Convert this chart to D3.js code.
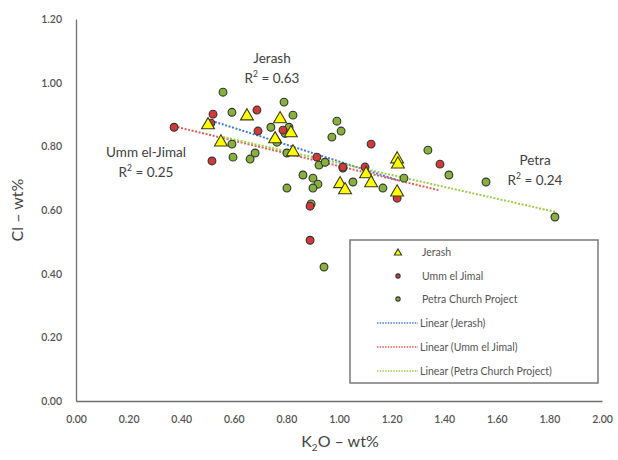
<!DOCTYPE html>
<html>
<head>
<meta charset="utf-8">
<script src="https://cdn.jsdelivr.net/npm/d3@7"></script>
<style>
  html, body { margin: 0; padding: 0; background: #fff; }
  svg { display: block; font-family: Lato, "Open Sans", sans-serif; }
</style>
</head>
<body>
<svg id="chart" width="618" height="460"></svg>
<script>
// K2O (x) and Cl (y) in wt% for each site
const jerashK2O = [0.502, 0.551, 0.650, 0.776, 0.817, 0.757, 0.825, 1.004, 1.023, 1.103, 1.122, 1.221, 1.224, 1.221];
const jerashCl  = [0.870, 0.816, 0.898, 0.889, 0.845, 0.826, 0.785, 0.685, 0.666, 0.716, 0.688, 0.763, 0.747, 0.659];

const ummK2O = [0.373, 0.521, 0.513, 0.688, 0.692, 0.517, 0.787, 0.916, 1.015, 1.099, 1.122, 1.384, 1.221, 0.890, 0.890];
const ummCl  = [0.860, 0.901, 0.873, 0.914, 0.848, 0.754, 0.851, 0.766, 0.735, 0.735, 0.807, 0.744, 0.637, 0.612, 0.505];

const petraK2O = [0.559, 0.593, 0.593, 0.597, 0.662, 0.681, 0.741, 0.791, 0.825, 0.810, 0.795, 0.764, 0.802,
                  0.992, 1.008, 0.973, 0.924, 0.947, 1.015, 0.863, 0.901, 0.920, 0.901, 0.802, 1.053, 1.167,
                  1.247, 1.338, 1.418, 1.559, 1.821, 0.894, 0.943];
const petraCl  = [0.970, 0.907, 0.807, 0.766, 0.760, 0.779, 0.860, 0.939, 0.898, 0.860, 0.841, 0.813, 0.779,
                  0.879, 0.848, 0.829, 0.741, 0.750, 0.732, 0.710, 0.700, 0.681, 0.669, 0.669, 0.688, 0.669,
                  0.700, 0.788, 0.710, 0.688, 0.578, 0.619, 0.421];

const xTicks = [0, 0.2, 0.4, 0.6, 0.8, 1.0, 1.2, 1.4, 1.6, 1.8, 2.0];
const yTicks = [0, 0.2, 0.4, 0.6, 0.8, 1.0, 1.2];

const seriesNames = ["Jerash", "Umm el Jimal", "Petra Church Project"];
const trendNames = ["Linear (Jerash)", "Linear (Umm el Jimal)", "Linear (Petra Church Project)"];
const fitLabels = [
  { name: "Jerash", r2: "0.63" },
  { name: "Umm el-Jimal", r2: "0.25" },
  { name: "Petra", r2: "0.24" }
];

const svg = d3.select("#chart");
const plotLeft = 76, plotRight = 602, plotTop = 19, plotBottom = 401;

const x = d3.scaleLinear().domain([0, 2]).range([plotLeft, plotRight]);
const y = d3.scaleLinear().domain([0, 1.2]).range([plotBottom, plotTop]);

const zip = (xs, ys) => xs.map((v, i) => [v, ys[i]]);
const series = [
  { pts: zip(jerashK2O, jerashCl), shape: "tri", fill: "#ffff00", line: "#4a7bd0" },
  { pts: zip(ummK2O, ummCl), shape: "circ", fill: "#d23a3a", line: "#e0605a" },
  { pts: zip(petraK2O, petraCl), shape: "circ", fill: "#86b23c", line: "#9ccc4a" }
];

// least-squares line over the x-range of each series
function fit(pts) {
  const mx = d3.mean(pts, d => d[0]), my = d3.mean(pts, d => d[1]);
  const sxy = d3.sum(pts, d => (d[0] - mx) * (d[1] - my));
  const sxx = d3.sum(pts, d => (d[0] - mx) ** 2);
  const b = sxy / sxx, a = my - b * mx;
  const [x0, x1] = d3.extent(pts, d => d[0]);
  return [[x0, a + b * x0], [x1, a + b * x1]];
}

// axes (lines and labels only)
const axisColor = "#6e6e6e";
const xAxis = svg.append("g").attr("transform", `translate(0,${plotBottom})`)
  .call(d3.axisBottom(x).tickValues(xTicks).tickSize(0).tickPadding(15).tickFormat(d3.format(".2f")));
const yAxis = svg.append("g").attr("transform", `translate(${plotLeft},0)`)
  .call(d3.axisLeft(y).tickValues(yTicks).tickSize(0).tickPadding(14).tickFormat(d3.format(".2f")));
[xAxis, yAxis].forEach(g => {
  g.select(".domain").attr("stroke", axisColor).attr("stroke-width", 1.3);
  g.selectAll("text").attr("fill", "#555").attr("font-size", 10.5).attr("font-weight", 600)
    .attr("font-family", "Lato, sans-serif");
});

// axis titles
const xt = svg.append("text").attr("x", 340).attr("y", 447).attr("text-anchor", "middle")
  .attr("font-size", 16).attr("fill", "#444");
xt.append("tspan").text("K");
xt.append("tspan").text("2").attr("font-size", 10).attr("dy", 4);
xt.append("tspan").text("O – wt%").attr("dy", -4);

svg.append("text").attr("transform", "translate(23,210) rotate(-90)").attr("text-anchor", "middle")
  .attr("font-size", 16).attr("fill", "#444").text("Cl – wt%");

// trend lines
const lineGen = d3.line().x(d => x(d[0])).y(d => y(d[1]));
series.forEach(s => {
  svg.append("path").attr("d", lineGen(fit(s.pts))).attr("fill", "none")
    .attr("stroke", s.line).attr("stroke-width", 2).attr("stroke-dasharray", "2,1.6");
});

// markers
function drawMarker(g, shape, fill, cx, cy, scale) {
  if (shape === "tri") {
    g.append("path").attr("d", d3.symbol().type(d3.symbolTriangle).size(72 * scale * scale)())
      .attr("transform", `translate(${cx},${cy + 1})`)
      .attr("fill", fill).attr("stroke", "#3a3a1a").attr("stroke-width", 1.1);
  } else {
    g.append("circle").attr("cx", cx).attr("cy", cy).attr("r", 3.9 * scale)
      .attr("fill", fill).attr("stroke", "#333").attr("stroke-width", 1.1);
  }
}
const markG = svg.append("g");
[2, 1, 0].forEach(i => {
  const s = series[i];
  s.pts.forEach(p => drawMarker(markG, s.shape, s.fill, x(p[0]), y(p[1]), 1));
});

// fit annotations
const annPos = [[272, 63], [146, 157], [535, 165]];
fitLabels.forEach((f, i) => {
  const [ax, ay] = annPos[i];
  svg.append("text").attr("x", ax).attr("y", ay).attr("text-anchor", "middle")
    .attr("font-size", 13.5).attr("fill", "#404040").text(f.name);
  const t = svg.append("text").attr("x", ax).attr("y", ay + 20).attr("text-anchor", "middle")
    .attr("font-size", 13.5).attr("fill", "#404040");
  t.append("tspan").text("R");
  t.append("tspan").text("2").attr("font-size", 8.5).attr("dy", -6);
  t.append("tspan").text(" = " + f.r2).attr("dy", 6);
});

// legend
const lg = svg.append("g");
lg.append("rect").attr("x", 350).attr("y", 240).attr("width", 248).attr("height", 143)
  .attr("fill", "#fff").attr("stroke", "#7a7a7a").attr("stroke-width", 1.5);
const rowY = [252, 276, 299, 323, 347, 371];
series.forEach((s, i) => {
  drawMarker(lg, s.shape, s.fill, 398, rowY[i], 0.55);
  lg.append("text").attr("x", 422).attr("y", rowY[i] + 4).attr("font-size", 10.5)
    .attr("fill", "#555").text(seriesNames[i]);
});
series.forEach((s, i) => {
  const yy = rowY[i + 3];
  lg.append("line").attr("x1", 377).attr("x2", 418).attr("y1", yy).attr("y2", yy)
    .attr("stroke", s.line).attr("stroke-width", 1.5).attr("stroke-dasharray", "1.5,1.2");
  lg.append("text").attr("x", 420).attr("y", yy + 4).attr("font-size", 10.5)
    .attr("fill", "#555").text(trendNames[i]);
});
</script>
</body>
</html>
